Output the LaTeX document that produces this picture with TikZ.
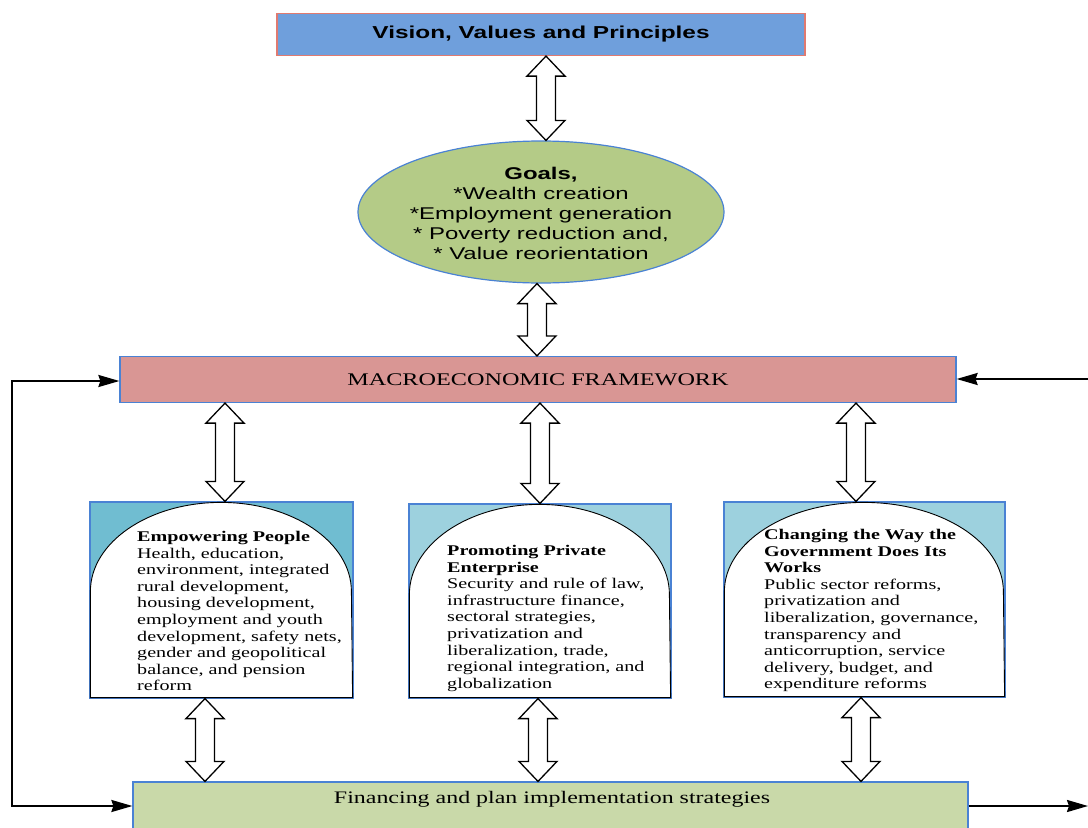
\documentclass[tikz,border=0pt]{standalone}
\usepackage{fontspec}
\usetikzlibrary{shapes.geometric,arrows.meta,calc}
\newfontfamily\serifwide{Liberation Serif}[FakeStretch=1.36]
\newfontfamily\sanswide{Liberation Sans}[FakeStretch=1.41]
\definecolor{visionfill}{HTML}{6F9FDC}
\definecolor{visionline}{HTML}{E07A70}
\definecolor{goalsfill}{HTML}{B4CB87}
\definecolor{frameline}{HTML}{4A82D4}
\definecolor{macrofill}{HTML}{D99694}
\definecolor{tealdark}{HTML}{70BDD1}
\definecolor{teallight}{HTML}{9DD1DE}
\definecolor{finfill}{HTML}{C9D9A9}

% vertical two-headed block arrow at x=#1 from the bottom of node #2
% to the top of node #3 (shaft 19pt, heads 38pt wide and 20pt long)
\newcommand\linkarrow[3]{%
  \path[twoway] let \p1=(#2.south), \p2=(#3.north) in
    (#1pt,\y1) -- ({#1pt+19pt},{\y1-20pt}) -- ({#1pt+9.5pt},{\y1-20pt})
    -- ({#1pt+9.5pt},{\y2+20pt}) -- ({#1pt+19pt},{\y2+20pt}) -- (#1pt,\y2)
    -- ({#1pt-19pt},{\y2+20pt}) -- ({#1pt-9.5pt},{\y2+20pt})
    -- ({#1pt-9.5pt},{\y1-20pt}) -- ({#1pt-19pt},{\y1-20pt}) -- cycle;}

\begin{document}
\begin{tikzpicture}[x=1pt,y=1pt,
  boxline/.style={draw=frameline, line width=1.2pt},
  twoway/.style={draw=black, fill=white, line width=1.3pt, line join=miter},
  pillar/.style={draw=black, fill=white, line width=0.9pt},
  body/.style={anchor=north west, align=left, inner sep=0pt,
    font=\serifwide\fontsize{14.8}{16.6}\selectfont},
  feed/.style={draw=black, line width=2pt,
    -{Stealth[length=21pt, width=12pt, inset=2pt]}},
]
\useasboundingbox (0,0) rectangle (1088,-828);
\fill[white] (0,0) rectangle (1088,-828);

% top: vision
\node[draw=visionline, fill=visionfill, line width=1.2pt,
  minimum width=528, minimum height=42, inner sep=0pt,
  font=\sanswide\bfseries\fontsize{17.3}{20}\selectfont]
  (vision) at (541,-34.5) {Vision, Values and Principles};

% goals ellipse
\node[ellipse, boxline, fill=goalsfill, minimum width=366, minimum height=142,
  inner sep=0pt] (goals) at (541,-212) {};
\node[align=center, inner sep=0pt,
  font=\sanswide\fontsize{17}{20}\selectfont] (goalstext) at (541,-213.5)
  {{\bfseries Goals,}\\{*}Wealth creation\\{*}Employment generation\\{*} Poverty reduction and,\\{*} Value reorientation};

% macroeconomic framework
\node[boxline, fill=macrofill, minimum width=836, minimum height=46,
  inner sep=0pt, font=\serifwide\fontsize{17.8}{20}\selectfont]
  (macro) at (538,-379.5) {MACROECONOMIC FRAMEWORK};

% three pillars
\node[boxline, fill=tealdark, minimum width=263, minimum height=196, inner sep=0pt]
  (peop) at (221.5,-600) {};
\node[boxline, fill=teallight, minimum width=262, minimum height=194, inner sep=0pt]
  (priv) at (540,-601) {};
\node[boxline, fill=teallight, minimum width=281, minimum height=195, inner sep=0pt]
  (govt) at (864.5,-599.5) {};

\draw[pillar] ([xshift=1pt,yshift=1pt]peop.south west)
  -- ([xshift=1pt,yshift=-90pt]peop.north west)
  arc[start angle=180, end angle=0, x radius=130.5, y radius=89]
  -- ([xshift=-1pt,yshift=1pt]peop.south east) -- cycle;
\draw[pillar] ([xshift=1pt,yshift=1pt]priv.south west)
  -- ([xshift=1pt,yshift=-91pt]priv.north west)
  arc[start angle=180, end angle=0, x radius=130, y radius=90]
  -- ([xshift=-1pt,yshift=1pt]priv.south east) -- cycle;
\draw[pillar] ([xshift=1pt,yshift=1pt]govt.south west)
  -- ([xshift=1pt,yshift=-90pt]govt.north west)
  arc[start angle=180, end angle=0, x radius=139.5, y radius=89]
  -- ([xshift=-1pt,yshift=1pt]govt.south east) -- cycle;

\node[body] (peoptext) at (137,-531)
  {{\bfseries Empowering People}\\Health, education,\\environment, integrated\\rural development,\\housing development,\\employment and youth\\development, safety nets,\\gender and geopolitical\\balance, and pension\\reform};
\node[body] (privtext) at (447,-545)
  {{\bfseries Promoting Private}\\{\bfseries Enterprise}\\Security and rule of law,\\infrastructure finance,\\sectoral strategies,\\privatization and\\liberalization, trade,\\regional integration, and\\globalization};
\node[body] (govttext) at (764,-529)
  {{\bfseries Changing the Way the}\\{\bfseries Government Does Its}\\{\bfseries Works}\\Public sector reforms,\\privatization and\\liberalization, governance,\\transparency and\\anticorruption, service\\delivery, budget, and\\expenditure reforms};

% financing strip
\node[boxline, fill=finfill, minimum width=835, minimum height=62, inner sep=0pt]
  (fin) at (550.5,-813) {};
\node[inner sep=0pt, font=\serifwide\fontsize{17.6}{20}\selectfont]
  (fintext) at (552,-799.5) {Financing and plan implementation strategies};

% block arrows
\linkarrow{546}{vision}{goals}
\linkarrow{537}{goals}{macro}
\linkarrow{225}{macro}{peop}
\linkarrow{540}{macro}{priv}
\linkarrow{856}{macro}{govt}
\linkarrow{205}{peop}{fin}
\linkarrow{538}{priv}{fin}
\linkarrow{861}{govt}{fin}

% feedback lines
\coordinate (lt) at (12,-381);
\coordinate (lb) at (12,-806);
\coordinate (rt) at (1088,-379);
\coordinate (rb) at (1088,-806);
\draw[feed] (lb) -- (lt) -- (lt -| macro.west);
\draw[feed] (lt) -- (lb) -- (lb -| fin.west);
\draw[feed] (rt) -- (rt -| macro.east);
\draw[feed] (rb -| fin.east) -- (rb);
\end{tikzpicture}
\end{document}
